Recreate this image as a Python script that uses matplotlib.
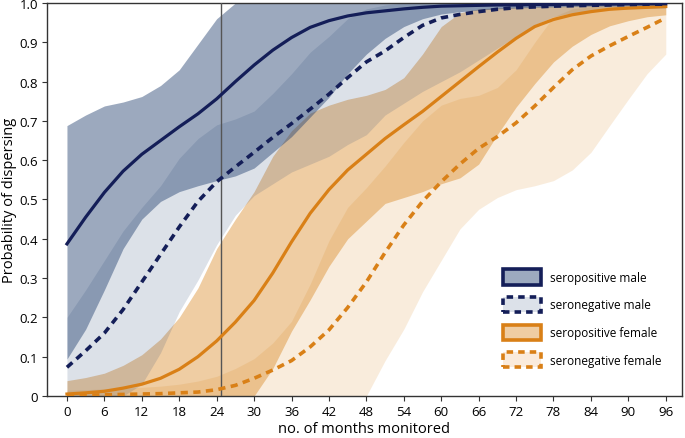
import numpy as np
import matplotlib
matplotlib.use("Agg")
import matplotlib.pyplot as plt
from matplotlib.patches import Rectangle

plt.rcParams['font.family'] = ['Open Sans', 'DejaVu Sans']

months = list(range(0, 97, 3))

sp_male_mean = [0.387, 0.455, 0.518, 0.572, 0.615, 0.65, 0.685, 0.718, 0.756, 0.80, 0.842, 0.88, 0.912,
                0.938, 0.955, 0.967, 0.975, 0.98, 0.985, 0.989, 0.992, 0.993, 0.994, 0.995, 0.995, 0.996,
                0.996, 0.997, 0.997, 0.997, 0.998, 0.998, 0.998]
sp_male_hi = [0.688, 0.715, 0.738, 0.748, 0.762, 0.79, 0.83, 0.895, 0.96, 1.0, 1.0, 1.0, 1.0, 1.0, 1.0, 1.0,
              1.0, 1.0, 1.0, 1.0, 1.0, 1.0, 1.0, 1.0, 1.0, 1.0, 1.0, 1.0, 1.0, 1.0, 1.0, 1.0, 1.0]
sp_male_lo = [0.094, 0.17, 0.27, 0.375, 0.45, 0.495, 0.52, 0.535, 0.548, 0.56, 0.58, 0.62, 0.66, 0.71, 0.76,
              0.82, 0.87, 0.91, 0.94, 0.96, 0.972, 0.978, 0.982, 0.985, 0.987, 0.989, 0.99, 0.991, 0.992,
              0.992, 0.993, 0.993, 0.994]

sn_male_mean = [0.073, 0.115, 0.16, 0.22, 0.29, 0.36, 0.43, 0.495, 0.545, 0.583, 0.62, 0.658, 0.693, 0.73,
                0.768, 0.81, 0.85, 0.878, 0.912, 0.943, 0.962, 0.971, 0.978, 0.984, 0.988, 0.99, 0.992,
                0.993, 0.994, 0.995, 0.996, 0.997, 0.997]
sn_male_hi = [0.20, 0.27, 0.345, 0.42, 0.48, 0.535, 0.605, 0.655, 0.69, 0.705, 0.725, 0.77, 0.82, 0.875, 0.915,
              0.96, 0.985, 0.995, 1.0, 1.0, 1.0, 1.0, 1.0, 1.0, 1.0, 1.0, 1.0, 1.0, 1.0, 1.0, 1.0, 1.0, 1.0]
sn_male_lo = [0.0, 0.0, 0.0, 0.0, 0.03, 0.11, 0.215, 0.295, 0.385, 0.46, 0.51, 0.54, 0.57, 0.59, 0.61, 0.64,
              0.665, 0.715, 0.745, 0.775, 0.80, 0.825, 0.855, 0.885, 0.915, 0.945, 0.965, 0.975, 0.98,
              0.983, 0.985, 0.986, 0.987]

sp_fem_mean = [0.005, 0.008, 0.012, 0.02, 0.03, 0.045, 0.068, 0.1, 0.14, 0.188, 0.243, 0.313, 0.392, 0.465,
               0.525, 0.575, 0.615, 0.655, 0.69, 0.724, 0.762, 0.80, 0.838, 0.875, 0.91, 0.94, 0.958, 0.97,
               0.978, 0.984, 0.987, 0.989, 0.991]
sp_fem_hi = [0.039, 0.047, 0.058, 0.078, 0.105, 0.145, 0.2, 0.275, 0.375, 0.45, 0.52, 0.61, 0.675, 0.72,
             0.74, 0.755, 0.765, 0.78, 0.81, 0.87, 0.94, 0.975, 0.985, 0.988, 0.99, 0.991, 0.992, 0.993,
             0.994, 0.994, 0.995, 0.995, 0.995]
sp_fem_lo = [0.0, 0.0, 0.0, 0.0, 0.0, 0.0, 0.0, 0.0, 0.0, 0.0, 0.0, 0.07, 0.165, 0.245, 0.33, 0.40, 0.445,
             0.49, 0.505, 0.52, 0.54, 0.555, 0.59, 0.665, 0.735, 0.795, 0.85, 0.89, 0.92, 0.942, 0.955,
             0.965, 0.97]

sn_fem_mean = [0.001, 0.002, 0.003, 0.004, 0.005, 0.006, 0.008, 0.01, 0.016, 0.027, 0.045, 0.066, 0.09,
               0.125, 0.168, 0.225, 0.29, 0.365, 0.435, 0.495, 0.545, 0.59, 0.63, 0.66, 0.695, 0.738, 0.785,
               0.83, 0.865, 0.891, 0.915, 0.938, 0.962]
sn_fem_hi = [0.015, 0.016, 0.018, 0.02, 0.022, 0.025, 0.03, 0.038, 0.05, 0.07, 0.095, 0.135, 0.19, 0.285,
             0.395, 0.48, 0.53, 0.585, 0.645, 0.70, 0.74, 0.757, 0.765, 0.785, 0.83, 0.90, 0.965, 0.985,
             0.99, 0.992, 0.993, 0.994, 0.995]
sn_fem_lo = [0.0, 0.0, 0.0, 0.0, 0.0, 0.0, 0.0, 0.0, 0.0, 0.0, 0.0, 0.0, 0.0, 0.0, 0.0, 0.0, 0.0, 0.09,
             0.17, 0.265, 0.345, 0.425, 0.475, 0.505, 0.525, 0.535, 0.548, 0.575, 0.62, 0.688, 0.755,
             0.82, 0.87]

labels = ["seropositive male", "seronegative male", "seropositive female", "seronegative female"]
cut_month = 24.7

navy = "#141E58"
orange = "#D98017"
fill_blue = "#284573"
fill_orange = "#D57C0D"

fig = plt.figure(figsize=(6.85, 4.39), dpi=100)
ax = fig.add_axes([0.0686, 0.0957, 0.927, 0.8952])

ax.fill_between(months, sn_fem_lo, sn_fem_hi, color=fill_orange, alpha=0.14, lw=0)
ax.fill_between(months, sp_fem_lo, sp_fem_hi, color=fill_orange, alpha=0.38, lw=0)
ax.fill_between(months, sn_male_lo, sn_male_hi, color=fill_blue, alpha=0.16, lw=0)
ax.fill_between(months, sp_male_lo, sp_male_hi, color=fill_blue, alpha=0.46, lw=0)

ax.axvline(cut_month, color="#555555", lw=1.0, zorder=3)

dash = (2.0, 1.5)
ax.plot(months, sn_fem_mean, color=orange, lw=2.6, linestyle=(0, dash), zorder=4)
ax.plot(months, sp_fem_mean, color=orange, lw=2.3, zorder=4)
ax.plot(months, sn_male_mean, color=navy, lw=2.6, linestyle=(0, dash), zorder=5)
ax.plot(months, sp_male_mean, color=navy, lw=2.3, zorder=5)

ax.set_xlim(-3.2, 98.6)
ax.set_ylim(0, 1.0)
ax.set_xticks(range(0, 97, 6))
yt = [i / 10 for i in range(11)]
ax.set_yticks(yt)
ax.set_yticklabels(["0"] + [f"{v:.1f}" for v in yt[1:]])
ax.tick_params(labelsize=9.5, length=3.5, width=0.8, color="#333333", direction="out", pad=3)
for s in ax.spines.values():
    s.set_color("#333333")
    s.set_linewidth(1.0)

ax.set_xlabel("no. of months monitored", fontsize=10.5, labelpad=2)
ax.set_ylabel("Probability of dispersing", fontsize=10.5, labelpad=2)

handles = [
    Rectangle((0, 0), 1, 1, facecolor="#9DAABF", edgecolor=navy, lw=2.6),
    Rectangle((0, 0), 1, 1, facecolor="#DCE1E9", edgecolor=navy, lw=2.6, linestyle=(0, (1.8, 1.4))),
    Rectangle((0, 0), 1, 1, facecolor="#EFCDA3", edgecolor=orange, lw=2.6),
    Rectangle((0, 0), 1, 1, facecolor="#FAEBDC", edgecolor=orange, lw=2.6, linestyle=(0, (1.8, 1.4))),
]
leg = ax.legend(handles, labels, loc="upper left", bbox_to_anchor=(0.718, 0.322), frameon=False,
                borderaxespad=0, borderpad=0,
                fontsize=8.5, handlelength=3.2, handleheight=1.6, labelspacing=1.05, handletextpad=0.75)

fig.savefig("out.png", dpi=100)
